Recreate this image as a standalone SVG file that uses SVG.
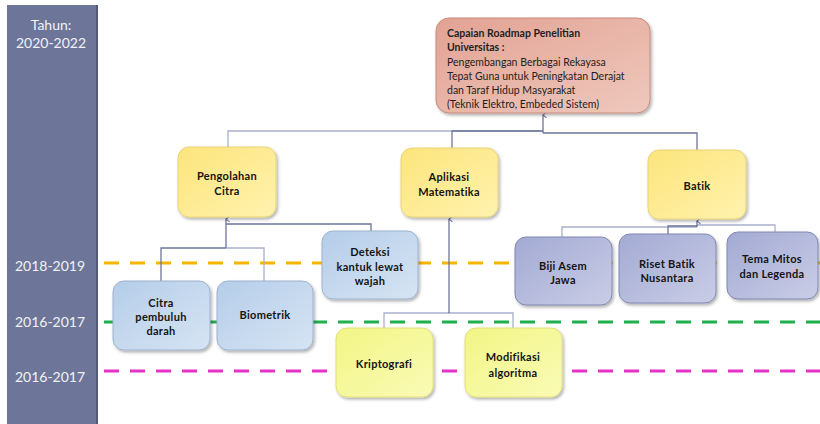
<svg xmlns="http://www.w3.org/2000/svg" width="820" height="424" viewBox="0 0 820 424">
<style>
.side{font-family:Lato,"Open Sans",sans-serif;font-size:14px;fill:#f2f2f6;text-anchor:middle}
.lbl{font-family:Lato,"Open Sans",sans-serif;font-size:11px;font-weight:bold;fill:#141414;text-anchor:middle;dominant-baseline:central;letter-spacing:0.3px}
.cap{font-family:Lato,"Open Sans",sans-serif;font-size:10.5px;fill:#1e1e1e;dominant-baseline:central}
.capb{font-weight:bold}
.dash{fill:none;stroke-width:3;stroke-dasharray:15 11}
.con{fill:none;stroke:#6e7499;stroke-width:1.3}
.conl{fill:none;stroke:#a9b0cd;stroke-width:1.3}
.box{stroke-width:1}
.yel{fill:url(#gy);stroke:#e8d276}
.lyel{fill:url(#gly);stroke:#dfe07a}
.blu{fill:url(#gb);stroke:#9cb2cf}
.pur{fill:url(#gp);stroke:#8088b2}
.sal{fill:url(#gs);stroke:#c88a7e}
</style>
<defs>
<linearGradient id="gy" x1="0" y1="0" x2="1" y2="1"><stop offset="0" stop-color="#fce57c"/><stop offset="1" stop-color="#fff2ae"/></linearGradient>
<linearGradient id="gly" x1="0" y1="0" x2="1" y2="1"><stop offset="0" stop-color="#f2f585"/><stop offset="1" stop-color="#fafbb6"/></linearGradient>
<linearGradient id="gb" x1="0" y1="0" x2="1" y2="1"><stop offset="0" stop-color="#b5cde9"/><stop offset="1" stop-color="#d6e4f3"/></linearGradient>
<linearGradient id="gp" x1="0" y1="0" x2="1" y2="1"><stop offset="0" stop-color="#a3aad3"/><stop offset="1" stop-color="#c9cde6"/></linearGradient>
<linearGradient id="gs" x1="0" y1="0" x2="1" y2="1"><stop offset="0" stop-color="#e2a293"/><stop offset="1" stop-color="#efc8bd"/></linearGradient>
<filter id="sh" x="-10%" y="-10%" width="125%" height="130%"><feDropShadow dx="1.5" dy="2" stdDeviation="1.5" flood-color="#000" flood-opacity="0.3"/></filter>
<marker id="ar" viewBox="0 0 10 10" refX="5" refY="1" markerWidth="7" markerHeight="7" orient="auto-start-reverse" markerUnits="userSpaceOnUse"><path d="M1,6 L5,1 L9,6" fill="none" stroke="#6e7499" stroke-width="1.5"/></marker>
</defs>

<g id="sidebar">
<rect x="7" y="5" width="91" height="419" fill="#6d7599"/>
<rect x="96" y="5" width="2" height="419" fill="#525a7c"/>
<text class="side" x="51" y="30">Tahun:</text>
<text class="side" x="51" y="48">2020-2022</text>
<text class="side" x="50" y="271">2018-2019</text>
<text class="side" x="50" y="327">2016-2017</text>
<text class="side" x="50" y="382">2016-2017</text>
</g>

<g id="timelines">
<line class="dash" x1="104" y1="263" x2="820" y2="263" stroke="#f7b500"/>
<line class="dash" x1="104" y1="322" x2="820" y2="322" stroke="#1db04c"/>
<line class="dash" x1="104" y1="371" x2="820" y2="371" stroke="#e632c8"/>
</g>

<g id="connectors">
<path class="conl" d="M228,147 V131 H543"/>
<path class="con" d="M452,148 V131 H543"/>
<path class="con" d="M697,150 V133 H543"/>
<path class="con" d="M543,133 V115" marker-end="url(#ar)"/>
<path class="con" d="M161,281 V248 H226"/>
<path class="conl" d="M264,281 V248 H226"/>
<path class="con" d="M371,231 V224 H226"/>
<path class="con" d="M226,248 V219" marker-end="url(#ar)"/>
<path class="conl" d="M384,328 V313 H449"/>
<path class="conl" d="M513,328 V313 H449"/>
<path class="con" d="M449,313 V219" marker-end="url(#ar)"/>
<path class="conl" d="M562,237 V227 H697"/>
<path class="con" d="M668,234 V226 H697"/>
<path class="conl" d="M775,232 V225 H697"/>
<path class="con" d="M697,227 V221" marker-end="url(#ar)"/>
</g>

<g id="capaian">
<rect class="box sal" x="436" y="18" width="214" height="95" rx="13" filter="url(#sh)"/>
<text class="cap capb" x="447" y="33">Capaian Roadmap Penelitian</text>
<text class="cap capb" x="447" y="47">Universitas :</text>
<text class="cap" x="447" y="62">Pengembangan Berbagai Rekayasa</text>
<text class="cap" x="447" y="76">Tepat Guna untuk Peningkatan Derajat</text>
<text class="cap" x="447" y="90">dan Taraf Hidup Masyarakat</text>
<text class="cap" x="447" y="104">(Teknik Elektro, Embeded Sistem)</text>
</g>

<g id="pengolahan">
<rect class="box yel" x="178" y="147" width="98" height="70" rx="11" filter="url(#sh)"/>
<text class="lbl" x="227" y="175">Pengolahan</text>
<text class="lbl" x="227" y="190">Citra</text>
</g>

<g id="aplikasi">
<rect class="box yel" x="401" y="148" width="97" height="69" rx="11" filter="url(#sh)"/>
<text class="lbl" x="449" y="176">Aplikasi</text>
<text class="lbl" x="449" y="191">Matematika</text>
</g>

<g id="batik">
<rect class="box yel" x="648" y="150" width="98" height="69" rx="11" filter="url(#sh)"/>
<text class="lbl" x="697" y="185">Batik</text>
</g>

<g id="citra">
<rect class="box blu" x="113" y="281" width="97" height="69" rx="11" filter="url(#sh)"/>
<text class="lbl" x="161" y="302">Citra</text>
<text class="lbl" x="161" y="316">pembuluh</text>
<text class="lbl" x="161" y="330">darah</text>
</g>

<g id="biometrik">
<rect class="box blu" x="217" y="281" width="96" height="69" rx="11" filter="url(#sh)"/>
<text class="lbl" x="265" y="314">Biometrik</text>
</g>

<g id="deteksi">
<rect class="box blu" x="322" y="231" width="96" height="68" rx="11" filter="url(#sh)"/>
<text class="lbl" x="370" y="251">Deteksi</text>
<text class="lbl" x="370" y="266">kantuk lewat</text>
<text class="lbl" x="370" y="280">wajah</text>
</g>

<g id="kriptografi">
<rect class="box lyel" x="336" y="328" width="97" height="69" rx="11" filter="url(#sh)"/>
<text class="lbl" x="384" y="363">Kriptografi</text>
</g>

<g id="modifikasi">
<rect class="box lyel" x="465" y="328" width="97" height="69" rx="11" filter="url(#sh)"/>
<text class="lbl" x="513" y="356">Modifikasi</text>
<text class="lbl" x="513" y="372">algoritma</text>
</g>

<g id="bijiasem">
<rect class="box pur" x="515" y="237" width="97" height="68" rx="11" filter="url(#sh)"/>
<text class="lbl" x="563" y="265">Biji Asem</text>
<text class="lbl" x="563" y="279">Jawa</text>
</g>

<g id="risetbatik">
<rect class="box pur" x="619" y="234" width="97" height="69" rx="11" filter="url(#sh)"/>
<text class="lbl" x="667" y="263">Riset Batik</text>
<text class="lbl" x="667" y="277">Nusantara</text>
</g>

<g id="temamitos">
<rect class="box pur" x="727" y="232" width="91" height="67" rx="11" filter="url(#sh)"/>
<text class="lbl" x="772" y="258">Tema Mitos</text>
<text class="lbl" x="772" y="273">dan Legenda</text>
</g>
</svg>
